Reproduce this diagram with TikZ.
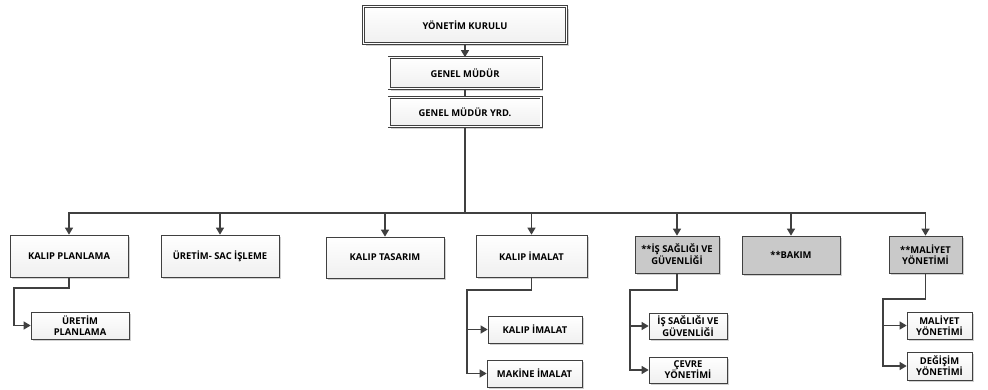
\documentclass[tikz,border=0pt]{standalone}
\usepackage{fontspec}
\setmainfont{Open Sans}
\usepackage{xcolor}
\usetikzlibrary{arrows.meta, positioning, shadows, calc}

\definecolor{linegray}{HTML}{404040}
\definecolor{boxgray}{HTML}{C9C9C9}

\begin{document}
\begin{tikzpicture}[
        x=1pt, y=-1pt,
        font=\bfseries\fontsize{9.4}{11}\selectfont,
        box/.style={rectangle, draw=linegray, line width=0.7pt, align=center, inner sep=0pt,
            top color=white, bottom color=gray!12,
            drop shadow={shadow xshift=2pt, shadow yshift=-2pt, fill=gray!60, opacity=0.6}},
        graybox/.style={box, top color=boxgray, bottom color=boxgray},
        topbox/.style={box, double=white, double distance=1.6pt},
        link/.style={draw=linegray, line width=1.4pt},
        arr/.style={link, -{Triangle[length=7pt, width=8pt]}}
    ]
        \useasboundingbox (0,0) rectangle (988,389);

        % Management
        \node[topbox, minimum width=203pt, minimum height=37pt] (kurul) at (465,25) {YÖNETİM KURULU};
        \node[topbox, minimum width=152pt, minimum height=31pt] (gm) at (465,73) {GENEL MÜDÜR};
        \node[topbox, minimum width=152pt, minimum height=29pt] (gmy) at (465,112) {GENEL MÜDÜR YRD.};

        % Departments
        \node[box, minimum width=118pt, minimum height=42pt] (kplan) at (69,256) {KALIP PLANLAMA};
        \node[box, minimum width=118pt, minimum height=42pt] (sac) at (220,256) {ÜRETİM- SAC İŞLEME};
        \node[box, minimum width=118pt, minimum height=41pt] (tasarim) at (385,257.5) {KALIP TASARIM};
        \node[box, minimum width=111pt, minimum height=42pt] (imalat) at (531.5,256) {KALIP İMALAT};
        \node[graybox, minimum width=84pt, minimum height=37pt] (isg) at (677,254.5) {**İŞ SAĞLIĞI VE\\GÜVENLİĞİ};
        \node[graybox, minimum width=98pt, minimum height=38pt] (bakim) at (791,255) {**BAKIM};
        \node[graybox, minimum width=73pt, minimum height=37pt] (maliyet) at (925.5,254.5) {**MALİYET\\YÖNETİMİ};

        % Sub units
        \node[box, minimum width=98pt, minimum height=27pt] (uplan) at (80,325.5) {ÜRETİM\\PLANLAMA};
        \node[box, minimum width=94pt, minimum height=27pt] (kimalat) at (535,329.5) {KALIP İMALAT};
        \node[box, minimum width=95pt, minimum height=27pt] (mimalat) at (534.5,373.5) {MAKİNE İMALAT};
        \node[box, minimum width=78pt, minimum height=26pt] (isg2) at (688,326) {İŞ SAĞLIĞI VE\\GÜVENLİĞİ};
        \node[box, minimum width=78pt, minimum height=26pt] (cevre) at (688,370) {ÇEVRE\\YÖNETİMİ};
        \node[box, minimum width=65pt, minimum height=27pt] (maliyet2) at (939.5,325.5) {MALİYET\\YÖNETİMİ};
        \node[box, minimum width=65pt, minimum height=28pt] (degisim) at (939.5,366) {DEĞİŞİM\\YÖNETİMİ};

        % Links
        \draw[arr] (kurul) -- (gm);
        \draw[link] (gm) -- (gmy);
        \coordinate (bus) at (465,213);
        \draw[link] (gmy.south) -- (bus);
        \foreach \n in {kplan, sac, tasarim, imalat, isg, bakim, maliyet}
            \draw[arr] (bus) -| (\n.north);

        % Sub links
        \coordinate (kplanj) at (14,288);
        \coordinate (imalatj) at (467,290);
        \coordinate (isgj) at (630,290);
        \coordinate (maliyetj) at (883,299);
        \draw[arr] (kplan.south) |- (kplanj) |- (uplan.west);
        \draw[arr] (imalat.south) |- (imalatj) |- (kimalat.west);
        \draw[arr] (imalatj) |- (mimalat.west);
        \draw[arr] (isg.south) |- (isgj) |- (isg2.west);
        \draw[arr] (isgj) |- (cevre.west);
        \draw[arr] (maliyet.south) |- (maliyetj) |- (maliyet2.west);
        \draw[arr] (maliyetj) |- (degisim.west);

    \end{tikzpicture}
\end{document}
